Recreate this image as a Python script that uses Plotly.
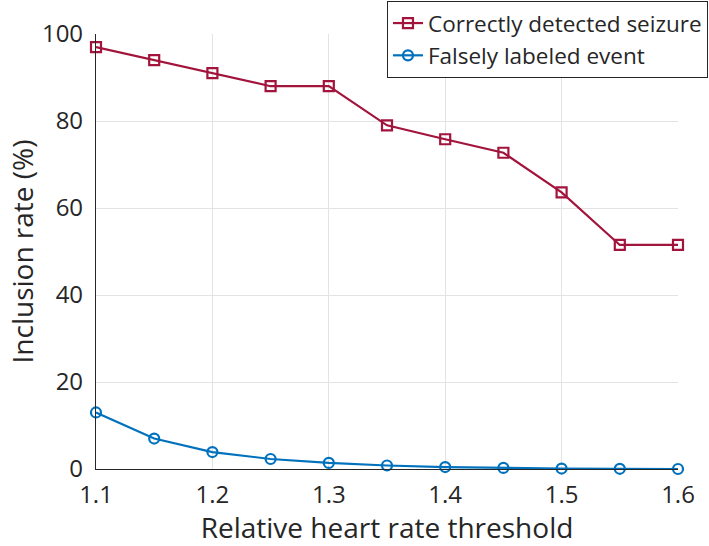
import plotly.graph_objects as go

thresholds = [1.1, 1.15, 1.2, 1.25, 1.3, 1.35, 1.4, 1.45, 1.5, 1.55, 1.6]
correct_seizure = [97.0, 94.0, 91.0, 88.0, 88.0, 79.0, 75.8, 72.7, 63.6, 51.5, 51.5]
false_event = [13.0, 7.0, 3.9, 2.3, 1.4, 0.8, 0.45, 0.25, 0.1, 0.05, 0.0]
x_ticks = [1.1, 1.2, 1.3, 1.4, 1.5, 1.6]
y_ticks = [0, 20, 40, 60, 80, 100]

red = "#A2143C"
blue = "#0072BD"
font = "Open Sans"

fig = go.Figure()
fig.add_trace(go.Scatter(
    x=thresholds, y=correct_seizure, mode="lines+markers",
    name="Correctly detected seizure",
    line=dict(color=red, width=2.2),
    marker=dict(symbol="square-open", size=10, color=red, line=dict(width=2.2)),
    cliponaxis=False,
))
fig.add_trace(go.Scatter(
    x=thresholds, y=false_event, mode="lines+markers",
    name="Falsely labeled event",
    line=dict(color=blue, width=2.2),
    marker=dict(symbol="circle-open", size=10, color=blue, line=dict(width=2.2)),
    cliponaxis=False,
))

fig.update_layout(
    width=709, height=546,
    margin=dict(l=96, r=31, t=34, b=77, autoexpand=False),
    paper_bgcolor="white", plot_bgcolor="white",
    font=dict(family=font, color="#262626"),
    showlegend=True,
    legend=dict(
        x=1.0515, y=1.076, xanchor="right", yanchor="top",
        bgcolor="white", bordercolor="#262626", borderwidth=1,
        font=dict(size=22.5, family=font, color="#262626"),
        tracegroupgap=0, itemwidth=30,
    ),
    xaxis=dict(
        range=[1.1, 1.6], tickvals=x_ticks, ticktext=[f"{v:.1f}" for v in x_ticks],
        showgrid=True, gridcolor="#E3E3E3", gridwidth=1,
        showline=True, linecolor="#262626", linewidth=1.2,
        ticks="", zeroline=False, ticklabelstandoff=4,
        tickfont=dict(size=24, family=font, color="#262626"),
        title=dict(text="Relative heart rate threshold", font=dict(size=28, family=font, color="#262626"), standoff=14),
    ),
    yaxis=dict(
        range=[0, 100], tickvals=y_ticks,
        showgrid=True, gridcolor="#E3E3E3", gridwidth=1,
        showline=True, linecolor="#262626", linewidth=1.2,
        ticks="", zeroline=False, ticklabelstandoff=7,
        tickfont=dict(size=24, family=font, color="#262626"),
        title=dict(text="Inclusion rate (%)", font=dict(size=28, family=font, color="#262626"), standoff=0),
    ),
)

fig.write_html(
    "out.html",
    config={"displayModeBar": False},
    post_script="document.body.style.margin='0';document.body.style.overflow='hidden';",
)
